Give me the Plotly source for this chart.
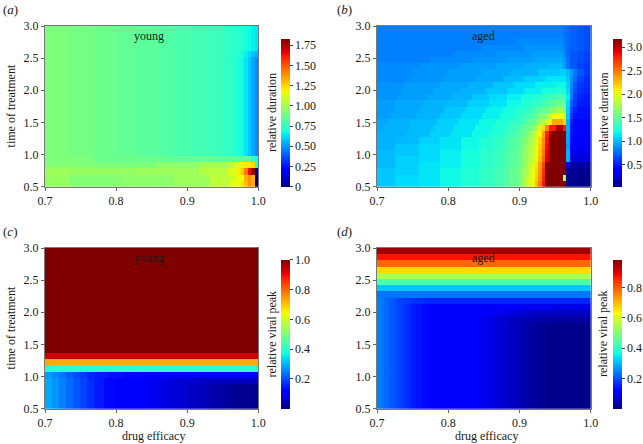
import plotly.graph_objects as go

# ---------------- data ----------------
efficacy_range = [0.7, 1.0]          # drug efficacy (x)
treatment_range = [0.5, 3.0]         # time of treatment (y)
n_efficacy = 61
n_treatment = 26

x_ticks = [0.7, 0.8, 0.9, 1.0]
y_ticks = [0.5, 1.0, 1.5, 2.0, 2.5, 3.0]

# Each row: run-length tokens "<level>*<count>", level = percent of the colour range.
# Rows listed from top (time 3.0) to bottom (time 0.5).
young_duration_rows = (
    ["50*7 49*7 48*6 47*6 46*6 45*5 44*5 43*5 42*4 41*3 40*2 39*1 38*1 37*1 36*1 35*1"] * 4 +
    ["50*7 49*7 48*6 47*6 46*6 45*5 44*5 43*5 42*4 41*3 40*2 38*1 36*1 34*1 32*1 30*1"] +
    ["50*7 49*7 48*6 47*6 46*6 45*5 44*5 43*5 42*4 41*3 39*2 37*1 35*1 32*1 29*1 26*1"] * 16 +
    ["50*14 48*20 47*15 46*7 47*3 40*1 38*1",
     "51*14 50*18 52*12 55*8 58*2 62*3 66*2 68*1 40*1",
     "54*7 53*20 54*17 57*8 62*3 66*1 70*1 78*1 90*1 99*1 0*1",
     "53*7 51*15 52*15 54*10 58*6 61*2 64*2 72*1 76*1 72*1 0*1",
     "53*7 51*15 52*15 54*10 58*6 63*3 67*1 71*1 76*1 73*1 0*1"]
)
young_duration_range = [0.0, 1.83]

aged_duration_rows = [
    "25*53 24*1 23*1 22*2 21*2 20*2",
    "25*53 24*1 23*1 22*2 21*2 20*2",
    "25*40 26*13 24*1 23*1 22*2 21*2 20*2",
    "25*30 26*12 27*11 25*1 23*1 22*2 21*2 20*2",
    "25*22 26*12 27*10 28*9 26*1 23*1 21*2 20*2 19*2",
    "25*15 26*12 27*10 28*8 29*8 27*1 24*1 21*2 20*2 19*2",
    "26*12 27*12 28*10 29*8 30*7 31*4 28*1 24*1 21*2 19*2 18*2",
    "26*10 27*10 28*10 29*8 30*8 32*6 33*2 31*1 28*1 24*1 21*2 18*2",
    "26*9 27*10 28*9 29*8 31*6 33*6 35*6 32*1 27*1 23*1 19*2 17*2",
    "27*8 28*10 29*8 30*7 32*6 34*6 36*6 37*3 33*1 26*1 21*1 18*2 17*2",
    "27*7 28*9 29*8 30*7 32*6 34*5 36*5 38*4 39*3 34*1 25*1 20*1 17*2 16*2",
    "27*6 28*8 29*7 30*6 32*5 34*5 36*4 38*4 40*3 42*3 44*3 36*1 25*1 19*1 16*2 15*2",
    "28*5 29*8 30*7 31*6 33*6 35*5 37*4 39*3 41*3 44*2 46*2 48*2 46*1 34*1 22*1 18*1 15*4",
    "28*5 29*7 30*7 32*6 34*6 36*5 38*4 40*3 42*2 45*2 48*2 51*2 55*2 50*1 33*1 20*1 16*1 14*4",
    "28*4 29*7 30*7 32*6 34*6 36*5 38*4 40*3 43*2 46*2 50*2 54*1 58*1 64*3 60*1 32*1 18*1 14*5",
    "29*3 30*7 31*7 33*6 35*6 37*5 39*4 41*3 44*2 47*2 50*1 53*1 57*1 61*1 66*1 73*3 68*1 30*1 16*1 13*5",
    "29*2 30*7 31*7 33*6 35*6 37*5 39*4 42*3 45*2 48*2 52*1 56*1 61*1 68*1 77*1 88*2 96*2 88*1 30*1 15*1 13*5",
    "30*8 31*7 33*6 35*6 37*5 39*4 42*3 45*2 48*2 52*1 56*1 60*1 65*1 74*1 87*1 96*1 100*4 29*1 15*1 13*5",
    "30*5 31*7 33*6 35*6 37*5 39*4 41*3 43*2 45*2 47*1 49*1 51*1 54*1 58*1 62*1 68*1 76*1 89*1 100*5 29*1 14*1 12*5",
    "30*5 32*7 34*6 35*6 37*5 39*4 41*3 43*2 45*2 47*1 49*1 52*1 55*1 59*1 63*1 69*1 77*1 90*1 100*5 28*1 13*1 11*5",
    "31*5 32*7 34*6 36*6 38*5 40*4 42*3 44*2 46*2 48*1 50*1 53*1 56*1 60*1 64*1 70*1 78*1 91*1 100*5 30*1 11*1 9*5",
    "31*5 33*7 34*6 36*6 38*5 40*4 42*3 44*2 46*2 48*1 50*1 53*1 56*1 60*1 65*1 71*1 80*1 92*1 100*5 30*1 8*6",
    "31*5 33*7 35*6 36*6 38*5 40*4 42*3 44*2 46*2 48*1 51*1 54*1 58*1 62*1 67*1 74*1 84*1 99*1 100*5 10*1 3*6",
    "32*5 33*7 35*6 37*6 39*5 41*4 43*3 45*2 47*2 49*1 52*1 55*1 59*1 63*1 68*1 75*1 86*1 100*6 2*7",
    "32*5 34*7 35*6 37*6 39*5 41*4 43*3 45*2 47*2 49*1 52*1 56*1 60*1 64*1 69*1 76*1 87*1 100*5 56*1 1*7",
    "32*5 34*7 35*6 37*6 39*5 41*4 43*3 45*2 47*2 50*1 53*1 57*1 61*1 65*1 71*1 78*1 89*1 100*6 1*7",
]
aged_duration_range = [0.03, 3.18]

young_peak_rows = (
    ["100*61"] * 17 +
    ["93*61", "73*61", "40*61",
     "28*2 26*2 24*2 22*2 20*2 18*2 16*3 15*3 14*4 13*6 12*33",
     "29*2 27*2 25*2 23*2 21*2 19*2 17*2 15*3 13*3 12*6 11*3 10*3 9*3 8*3 7*3 7*3 6*3 6*3 6*3 6*3 6*5"] +
    ["29*2 27*2 25*2 23*2 21*2 19*2 17*2 15*3 13*3 12*6 11*3 10*3 9*3 8*3 7*3 6*3 5*3 4*3 3*3 2*3 1*5"] * 4
)
young_peak_range = [0.0, 1.0]

aged_peak_rows = (
    ["97*61", "89*61", "80*61", "68*61", "56*61", "44*61", "32*61", "24*61",
     "25*1 24*1 23*1 22*1 21*1 20*1 19*2 18*2 17*3 16*48",
     "25*1 24*1 23*1 22*1 21*1 20*1 19*1 18*1 17*1 16*1 15*1 14*2 13*2 12*20 11*5 10*10 9*11",
     "25*1 24*1 23*1 22*1 21*1 20*1 19*1 18*1 17*1 16*1 15*1 14*2 13*2 12*14 11*3 10*3 9*3 8*3 7*3 6*17",
     "25*1 24*1 23*1 22*1 21*1 20*1 19*1 18*1 17*1 16*1 15*1 14*2 13*2 12*12 11*2 10*2 9*2 8*2 7*2 6*2 5*2 5*2 4*2 4*3 3*13"] +
    ["25*1 24*1 23*1 22*1 21*1 20*1 19*1 18*1 17*1 16*1 15*1 14*2 13*2 12*12 11*2 10*2 9*2 8*2 7*2 6*2 5*2 4*2 3*2 2*3 1*13"] * 14
)
aged_peak_range = [0.0, 0.985]

# ---------------- helpers ----------------
def decode(rows, vrange):
    lo, hi = vrange
    grid = []
    for row in rows:
        vals = []
        for tok in row.split():
            lev, cnt = tok.split("*")
            vals += [lo + float(lev) / 100.0 * (hi - lo)] * int(cnt)
        assert len(vals) == n_efficacy, (row, len(vals))
        grid.append(vals)
    assert len(grid) == n_treatment
    return grid[::-1]  # bottom row first

def edges(rng, n):
    a, b = rng
    return [a + (b - a) * i / n for i in range(n + 1)]

x_edges = edges(efficacy_range, n_efficacy)
y_edges = edges(treatment_range, n_treatment)

jet = [
    [0.0, "rgb(0,0,128)"], [0.11, "rgb(0,0,255)"], [0.125, "rgb(0,0,255)"],
    [0.34, "rgb(0,219,255)"], [0.35, "rgb(0,230,247)"], [0.375, "rgb(21,255,226)"],
    [0.64, "rgb(239,255,8)"], [0.65, "rgb(247,245,0)"], [0.66, "rgb(255,236,0)"],
    [0.89, "rgb(255,19,0)"], [0.91, "rgb(232,0,0)"], [1.0, "rgb(128,0,0)"],
]

W, H = 643, 444
FONT = "Liberation Serif"
TXT = "#1a1a1a"

def px_x(p):
    return p / W

def px_y(p):
    return 1 - p / H

panels = [
    (young_duration_rows, young_duration_range, (45, 258.3), (26, 186.7), 281, 38.3,
     [0, 0.25, 0.5, 0.75, 1.0, 1.25, 1.5, 1.75],
     ["0", "0.25", "0.50", "0.75", "1.00", "1.25", "1.50", "1.75"]),
    (aged_duration_rows, aged_duration_range, (377, 590.7), (26, 186.7), 612.7, 38.3,
     [0.5, 1.0, 1.5, 2.0, 2.5, 3.0], ["0.5", "1.0", "1.5", "2.0", "2.5", "3.0"]),
    (young_peak_rows, young_peak_range, (45, 258.3), (248, 408.7), 281, 259.3,
     [0.2, 0.4, 0.6, 0.8, 1.0], ["0.2", "0.4", "0.6", "0.8", "1.0"]),
    (aged_peak_rows, aged_peak_range, (377, 590.7), (248, 408.7), 612.7, 259.7,
     [0.2, 0.4, 0.6, 0.8], ["0.2", "0.4", "0.6", "0.8"]),
]

fig = go.Figure()
layout = dict(
    width=W, height=H, margin=dict(l=0, r=0, t=0, b=0, autoexpand=False),
    paper_bgcolor="white", plot_bgcolor="white",
    font=dict(family=FONT, size=12, color=TXT),
    showlegend=False,
)
annotations = []

for i, (rows, vr, xd, yd, cbx, cbtop, cbt, cbtt) in enumerate(panels):
    k = "" if i == 0 else str(i + 1)
    z = decode(rows, vr)
    fig.add_trace(go.Heatmap(
        z=z, x=x_edges, y=y_edges, colorscale=jet, zmin=vr[0], zmax=vr[1],
        xaxis="x" + k, yaxis="y" + k, hoverinfo="skip",
        colorbar=dict(
            x=px_x(cbx), xanchor="left", xpad=0, ypad=0,
            y=px_y(yd[1]), yanchor="bottom",
            lenmode="pixels", len=yd[1] - cbtop, thickness=9,
            outlinewidth=0,
            ticks="outside", ticklen=3, tickwidth=1, tickcolor="#444",
            tickvals=cbt, ticktext=cbtt,
            tickfont=dict(family=FONT, size=12, color=TXT),
        ),
    ))
    layout["xaxis" + k] = dict(
        domain=[px_x(xd[0]), px_x(xd[1])], range=efficacy_range, anchor="y" + k,
        tickvals=x_ticks, ticktext=["0.7", "0.8", "0.9", "1.0"],
        ticks="outside", ticklen=3, tickcolor="#666", showline=True, mirror=True,
        linecolor="#777", linewidth=1, showgrid=False, zeroline=False,
        automargin=False,
        tickfont=dict(family=FONT, size=12, color=TXT),
    )
    layout["yaxis" + k] = dict(
        domain=[px_y(yd[1]), px_y(yd[0])], range=treatment_range, anchor="x" + k,
        tickvals=y_ticks, ticktext=["0.5", "1.0", "1.5", "2.0", "2.5", "3.0"],
        ticks="outside", ticklen=3, tickcolor="#666", showline=True, mirror=True,
        linecolor="#777", linewidth=1, showgrid=False, zeroline=False,
        automargin=False,
        tickfont=dict(family=FONT, size=12, color=TXT),
    )

def ann(text, x, y, size=12, angle=0):
    annotations.append(dict(
        text=text, x=px_x(x), y=px_y(y), xref="paper", yref="paper",
        showarrow=False, textangle=angle, xanchor="center", yanchor="middle",
        borderpad=0,
        font=dict(family=FONT, size=size, color=TXT),
    ))

ann("(<i>a</i>)", 10, 9, 13)
ann("(<i>b</i>)", 344, 9, 13)
ann("(<i>c</i>)", 10, 231, 13)
ann("(<i>d</i>)", 344, 231, 13)
ann("young", 149, 36)
ann("aged", 483, 36)
ann("young", 149, 258)
ann("aged", 483, 258)
ann("time of treatment", 11, 106.4, 12, -90)
ann("time of treatment", 11, 328.4, 12, -90)
ann("relative duration", 271.5, 112.5, 12, -90)
ann("relative duration", 603, 112.5, 12, -90)
ann("relative viral peak", 271.5, 334, 12, -90)
ann("relative viral peak", 603, 334, 12, -90)
ann("drug efficacy", 153, 435.5)
ann("drug efficacy", 486, 435.5)

layout["annotations"] = annotations
fig.update_layout(**layout)
fig.write_html(
    "out.html",
    config={"displayModeBar": False},
    post_script="document.body.style.margin='0px';document.body.style.padding='0px';"
                "document.body.style.overflow='hidden';",
)
